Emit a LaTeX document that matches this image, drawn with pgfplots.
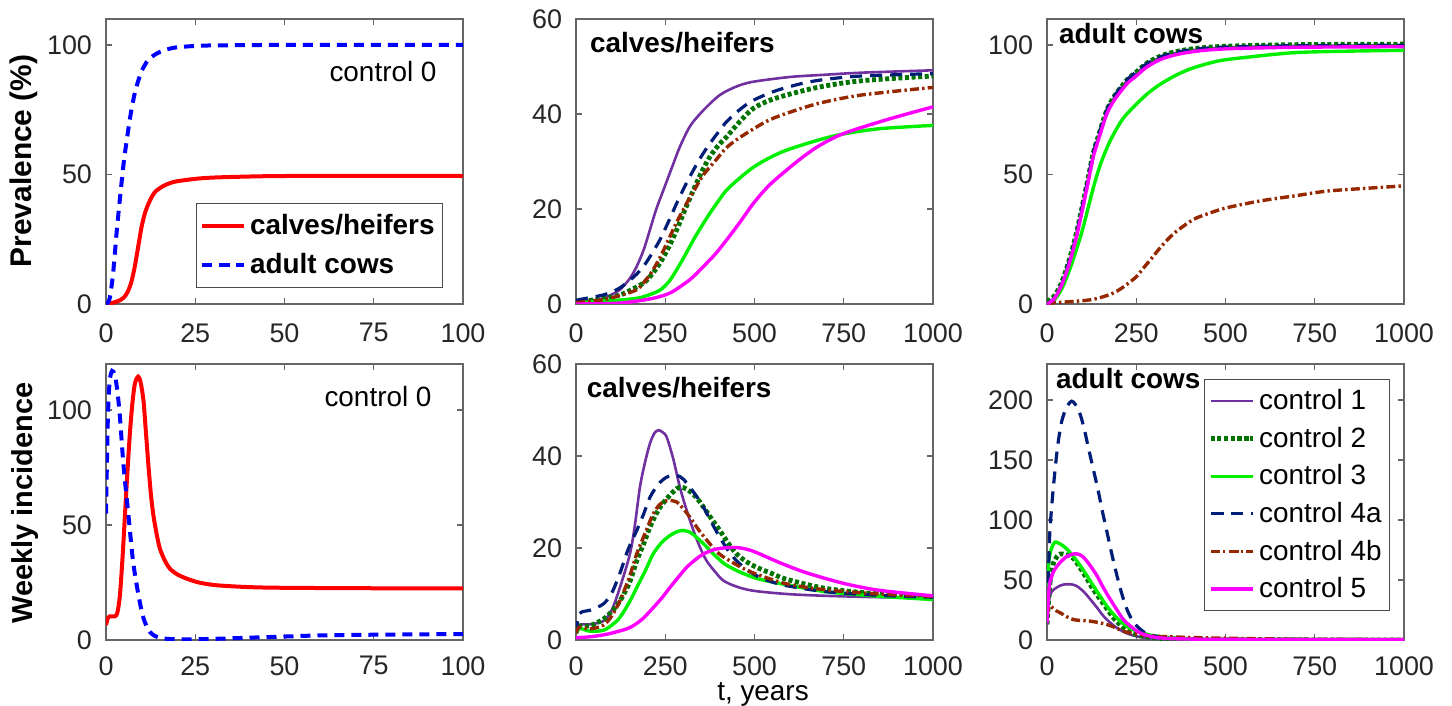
\documentclass[border=0pt]{standalone}
\usepackage{fontspec}
\setmainfont{Liberation Sans}
\usepackage{pgfplots}
\pgfplotsset{compat=1.18}

\definecolor{cone}{RGB}{112,48,160}
\definecolor{ctwo}{RGB}{0,115,0}
\definecolor{cthree}{RGB}{0,240,0}
\definecolor{cfoura}{RGB}{0,30,120}
\definecolor{cfourb}{RGB}{150,40,0}
\definecolor{cfive}{RGB}{255,0,255}

\pgfplotsset{
  mlab/.style={
    scale only axis, width=178.5bp,
    axis line style={draw=black!60, line width=0.6bp},
    tick style={draw=black!60, line width=0.6bp},
    major tick length=3bp,
    tick align=inside,
    tick label style={font=\fontsize{13.5}{15}\selectfont, text=black!85},
    /pgf/number format/assume math mode=true,
    /pgf/number format/1000 sep={},
    xticklabel style={inner ysep=1bp, yshift=-8.5bp},
    yticklabel style={xshift=-3.5bp},
    scaled ticks=false,
    legend image code/.code={\draw[##1] plot coordinates {(0bp,0bp) (10.5bp,0bp) (21bp,0bp)};},
  },
  bottomrow/.style={xticklabel style={yshift=1.5bp}},
  long/.style={mlab, xmin=0, xmax=1000, xtick={0,250,500,750,1000}},
  s1/.style={cone, line width=1.3bp},
  s2/.style={ctwo, line width=2.4bp, dash pattern=on 2bp off 1.3bp},
  s3/.style={cthree, line width=1.7bp},
  s4a/.style={cfoura, line width=1.6bp, dash pattern=on 6bp off 4bp},
  s4b/.style={cfourb, line width=1.7bp, dash pattern=on 4.5bp off 1.6bp on 1.2bp off 1.6bp},
  s5/.style={cfive, line width=1.7bp},
}

\begin{document}
\begin{tikzpicture}
\path[use as bounding box] (0,0) rectangle (726bp,-353bp);

% ---------- prevalence, control 0 ----------
\begin{axis}[mlab, at={(53bp,-9.5bp)}, anchor=north west, height=142.5bp,
  xmin=0, xmax=100, ymin=0, ymax=110,
  xtick={0,25,50,75,100}, ytick={0,50,100},
  legend style={at={(rel axis cs:0.944,0.354)}, anchor=north east,
    font=\bfseries\fontsize{14}{16}\selectfont, draw=black!70,
    cells={anchor=west}, row sep=4bp, inner xsep=2bp, inner ysep=3.5bp},
]
\addplot[red, line width=2bp, smooth] coordinates {
 (0,0) (2,0.5) (4,1.5) (5,2.5) (6,4.5) (7,8) (8,14) (9,22) (10,30) (11,35.5)
 (12,39) (13,41.8) (14,43.6) (16,45.5) (18,46.7) (20,47.4) (25,48.3) (30,48.8)
 (40,49.2) (50,49.4) (75,49.5) (100,49.4)};
\addlegendentry{calves/heifers}
\addplot[blue, line width=2bp, dash pattern=on 5bp off 3.5bp, smooth] coordinates {
 (0,0) (1,2) (2,12) (3,28) (4,42) (5,55) (6,65) (7,74) (8,81) (9,86) (10,90)
 (11,92.5) (12,94.5) (14,96.5) (16,97.8) (18,98.6) (20,99.1) (25,99.6) (30,99.8)
 (50,100) (100,100)};
\addlegendentry{adult cows}
\node[font=\fontsize{14}{16}\selectfont] at (rel axis cs:0.776,0.814) {control 0};
\end{axis}

% ---------- prevalence, calves/heifers ----------
\begin{axis}[long, at={(288bp,-9.5bp)}, anchor=north west, height=142.5bp,
  ymin=0, ymax=60, ytick={0,20,40,60}]
\addplot[s1, smooth] coordinates {
 (0,0.5) (50,0.8) (76,1.2) (100,2) (123,3) (150,5.3) (170,7.9) (190,11.5)
 (207,15.6) (225,20) (245,24) (270,29) (291,33.1) (320,37.5) (357,40.8)
 (403,44) (450,45.8) (497,46.8) (600,47.8) (683,48.2) (800,48.7) (1000,49.2)};
\addplot[s2, smooth] coordinates {
 (0,0.5) (30,0.7) (80,1.2) (123,1.9) (155,3) (189,4.4) (210,6) (235,8.6)
 (260,12) (282,15.6) (305,19.8) (329,24) (352,27.8) (375,31) (400,33.5)
 (422,35.2) (460,38.5) (497,41.2) (540,42.8) (590,44) (683,45.7) (800,47) (1000,48)};
\addplot[s3, smooth] coordinates {
 (0,0.3) (100,0.7) (170,1.2) (200,1.8) (235,2.9) (260,4.7) (282,7.2) (305,10.2)
 (329,13.5) (352,16.4) (375,19.1) (400,21.8) (422,24) (460,26.6) (497,28.8)
 (540,30.7) (590,32.4) (683,34.6) (750,35.8) (850,36.9) (1000,37.6)};
\addplot[s4a, smooth] coordinates {
 (0,0.8) (50,1.5) (76,1.9) (100,2.5) (125,3.5) (151,5) (170,6.3) (189,7.9)
 (210,10.3) (235,13.5) (260,17.5) (282,21.2) (305,24.8) (329,28.2) (352,31.2)
 (375,33.8) (400,36.3) (422,38.4) (460,41) (497,42.9) (560,44.9) (637,46.5)
 (700,47.3) (800,48) (1000,48.5)};
\addplot[s4b, smooth] coordinates {
 (0,0.3) (76,0.9) (123,1.8) (170,3) (195,5) (216,7.2) (240,10.5) (263,14.2)
 (286,17.8) (310,21.2) (333,24.2) (357,27.2) (394,30.5) (420,32.8) (450,34.6)
 (500,37) (543,38.8) (600,40.4) (683,42.3) (800,44) (1000,45.6)};
\addplot[s5, smooth] coordinates {
 (0,0) (100,0.1) (150,0.4) (216,1.2) (260,2.2) (291,3.6) (325,5.5) (357,7.9)
 (390,10.5) (422,13.5) (460,17.3) (497,21.2) (540,24.9) (590,28.2) (640,31.2)
 (683,33.4) (750,35.9) (875,38.9) (1000,41.5)};
\node[anchor=west, font=\bfseries\fontsize{14}{16}\selectfont] at (rel axis cs:0.02,0.916) {calves/heifers};
\end{axis}

% ---------- prevalence, adult cows ----------
\begin{axis}[long, at={(523.5bp,-9.5bp)}, anchor=north west, height=142.5bp,
  ymin=0, ymax=110, ytick={0,50,100}]
\addplot[s1, smooth] coordinates {
 (0,0) (20,2) (40,7) (60,15) (80,25) (100,38) (115,48) (130,58) (150,67)
 (168,74.5) (190,80) (224,86) (250,89) (280,92.5) (320,95.3) (364,97)
 (420,98.2) (505,99) (700,99.6) (1000,99.8)};
\addplot[s2, smooth] coordinates {
 (0,1) (20,3) (40,8) (60,16) (80,26) (100,38.5) (115,48.5) (130,58.5) (150,67.5)
 (168,75) (190,80.5) (224,86.5) (250,89.5) (280,93) (320,95.8) (364,97.5)
 (420,98.7) (505,99.5) (700,100.1) (1000,100.3)};
\addplot[s3, smooth] coordinates {
 (0,0) (20,1.5) (40,5.5) (60,12) (80,20) (100,29) (130,45) (150,54) (177,63)
 (210,71) (242,76) (280,81) (317,84.8) (364,88.5) (411,91.2) (480,93.8)
 (551,95.1) (692,97) (850,97.6) (1000,97.9)};
\addplot[s4a, smooth] coordinates {
 (0,0) (20,2.2) (40,7.3) (60,15.5) (80,25.5) (100,38.5) (115,48.5) (130,58.5) (150,67.5)
 (168,75) (190,80.5) (224,86.5) (250,89.5) (280,92.8) (320,95.5) (364,97.2)
 (420,98.4) (505,99.2) (700,99.7) (1000,99.9)};
\addplot[s4b, smooth] coordinates {
 (0,0) (18,0.5) (75,1) (130,1.8) (177,3.7) (200,5.3) (224,7.6) (250,10.5)
 (271,14) (295,18) (317,21.7) (340,25.2) (364,28.2) (411,32.7) (460,35.3)
 (505,37.2) (598,39.8) (692,41.7) (786,43.6) (900,44.7) (1000,45.6)};
\addplot[s5, smooth] coordinates {
 (0,0) (20,2) (40,7) (60,14.5) (80,24.5) (100,37) (115,47) (130,57) (150,66)
 (168,73.5) (190,79) (224,85) (250,88) (280,91.5) (320,94.5) (364,96.3)
 (420,97.6) (505,98.5) (700,99.1) (1000,99.3)};
\node[anchor=west, font=\bfseries\fontsize{14}{16}\selectfont] at (rel axis cs:0.014,0.95) {adult cows};
\end{axis}

% ---------- incidence, control 0 ----------
\begin{axis}[mlab, bottomrow, at={(53bp,-182bp)}, anchor=north west, height=138bp,
  xmin=0, xmax=100, ymin=0, ymax=120,
  xtick={0,25,50,75,100}, ytick={0,50,100}]
\addplot[red, line width=2bp, smooth] coordinates {
 (0,6.5) (0.5,9.5) (1,10.3) (2.5,10.3) (3.2,12) (3.9,19.5) (4.6,35) (5.3,54)
 (6,73) (6.7,90) (7.4,103) (8.1,111.5) (9,114.5) (9.7,112) (10.5,104) (11.2,90)
 (11.9,75.6) (12.6,63) (13.3,54) (14.2,46) (15.1,39.7) (16.5,34.5) (17.9,31)
 (20,28.5) (22.6,26.7) (26,25) (31,23.8) (40,23) (50,22.7) (75,22.5) (100,22.5)};
\addplot[blue, line width=2bp, dash pattern=on 5bp off 3.5bp, smooth] coordinates {
 (0,55) (0.5,95) (1,112) (1.7,117) (2.5,115) (3.2,108) (3.9,97) (4.9,76)
 (6.3,54) (7.6,34) (9.1,19.5) (10.5,9.5) (12.3,3.5) (15,1) (20,0.3) (30,0.5)
 (40,1) (50,1.5) (60,2) (75,2.3) (100,2.6)};
\node[font=\fontsize{14}{16}\selectfont] at (rel axis cs:0.762,0.881) {control 0};
\end{axis}

% ---------- incidence, calves/heifers ----------
\begin{axis}[long, bottomrow, at={(288bp,-182bp)}, anchor=north west, height=138bp,
  ymin=0, ymax=60, ytick={0,20,40,60}]
\addplot[s1, smooth] coordinates {
 (0,1.5) (10,3.3) (39,3.4) (76,4.1) (100,6.5) (123,11.4) (151,18.7) (165,25)
 (179,33.2) (193,38.5) (207,42.7) (220,45) (231,45.6) (242,45.2) (254,44.1)
 (272,39.5) (291,33.2) (310,28.2) (329,23.8) (347,20.2) (366,17.2) (390,14.8)
 (413,12.9) (450,11.6) (497,10.7) (590,10) (700,9.6) (850,9.3) (1000,9.1)};
\addplot[s2, smooth] coordinates {
 (0,1.5) (10,3) (39,3.1) (76,4.5) (100,6.2) (123,8.5) (150,12.5) (170,17.2)
 (190,21) (207,24.5) (230,28.2) (254,30.7) (282,32.9) (295,33.2) (310,32.8)
 (335,31.2) (357,28.9) (380,26.3) (403,23.8) (425,21.2) (450,18.7) (480,16.9)
 (506,15.8) (550,14.4) (590,13.2) (700,11.2) (850,10) (1000,9.3)};
\addplot[s3, smooth] coordinates {
 (0,1.5) (10,2.5) (39,1.9) (76,2.1) (100,3.2) (123,4.9) (150,8.3) (170,11.4)
 (195,15.2) (216,18.7) (240,21.2) (263,22.7) (285,23.6) (301,23.8) (320,23.4)
 (338,22.3) (360,20.7) (385,18.7) (415,16.6) (450,15.1) (480,14.1) (515,13.2)
 (590,12) (700,10.5) (850,9.5) (1000,8.8)};
\addplot[s4a, smooth] coordinates {
 (0,1.5) (10,5.7) (40,6.5) (76,7.8) (100,10.2) (123,14.5) (145,19.5) (170,23.8)
 (190,27.5) (207,31) (230,33.8) (254,35.4) (282,35.8) (300,35) (319,33.2)
 (338,31.2) (357,28.9) (380,25.5) (403,22.3) (425,19.6) (450,17.2) (480,15.2)
 (515,13.6) (550,12.6) (590,11.8) (700,10.5) (850,9.7) (1000,9.3)};
\addplot[s4b, smooth] coordinates {
 (0,1.5) (10,2.8) (39,2.4) (76,3.2) (100,5.2) (123,8.5) (150,13.8) (170,18.7)
 (195,23.5) (216,27.4) (235,29.5) (254,30.3) (270,30.3) (282,30) (300,28.6)
 (319,26.7) (345,23.8) (375,20.9) (400,18.8) (431,17.2) (470,15.5) (506,14.3)
 (590,12.2) (700,10.9) (850,10) (1000,9.5)};
\addplot[s5, smooth] coordinates {
 (0,0.5) (40,0.7) (76,1.1) (110,1.7) (151,2.7) (185,4.5) (216,7) (240,9.1)
 (263,11.4) (287,13.7) (310,15.8) (335,17.5) (357,18.7) (385,19.6) (413,20)
 (450,20.1) (480,19.7) (506,19) (550,17.5) (590,16.2) (650,14.5) (750,12.3)
 (850,10.8) (1000,9.6)};
\node[anchor=west, font=\bfseries\fontsize{14}{16}\selectfont] at (rel axis cs:0.011,0.916) {calves/heifers};
\end{axis}

% ---------- incidence, adult cows ----------
\begin{axis}[long, bottomrow, at={(523.5bp,-182bp)}, anchor=north west, height=138bp,
  ymin=0, ymax=230, ytick={0,50,100,150,200},
  legend style={at={(rel axis cs:0.961,0.945)}, anchor=north east,
    font=\fontsize{14}{16}\selectfont, draw=black!70,
    cells={anchor=west}, row sep=3.2bp, inner xsep=2bp, inner ysep=3bp},
]
\addplot[s1, smooth] coordinates {
 (0,14) (4,28) (8,36.7) (15,41) (27,43.7) (41,45.8) (55,46.5) (69,46.3) (83,45)
 (102,40.5) (121,34) (140,27) (158,20) (177,14.5) (196,10) (215,6.8) (233,4.5)
 (260,2.5) (300,1.2) (400,0.4) (1000,0.1)};
\addlegendentry{control 1}
\addplot[s2, smooth] coordinates {
 (0,13) (5,35) (10,52) (18,64) (28,69.5) (37,71.7) (55,71) (74,68) (93,60)
 (112,51) (130,42) (149,34) (168,26) (186,18.5) (205,12.5) (224,8) (250,4.5)
 (280,2.7) (320,1.3) (400,0.5) (500,0.2) (1000,0)};
\addlegendentry{control 2}
\addplot[s3, smooth] coordinates {
 (0,45) (5,65) (12,76) (22,81.5) (30,81) (40,79.5) (55,76) (74,69.5) (93,62)
 (112,53.5) (130,45) (150,36) (168,28) (186,21.5) (205,15.7) (228,10.5)
 (252,7.3) (280,4.8) (308,3) (350,1.7) (400,1) (500,0.5) (1000,0.3)};
\addlegendentry{control 3}
\addplot[s4a, smooth] coordinates {
 (0,14) (4,55) (8,90) (15,118) (22,140) (30,162) (41,182) (55,194) (69,199)
 (80,196) (93,188) (105,175) (116,160) (130,142) (144,123.5) (156,106)
 (168,90) (182,71) (196,53.5) (210,38) (224,25.5) (238,17) (252,11.5)
 (275,6) (300,3.5) (350,1.5) (400,1) (500,0.5) (1000,0.3)};
\addlegendentry{control 4a}
\addplot[s4b, smooth] coordinates {
 (0,20) (4,26) (8,28.3) (15,27) (25,24.5) (37,22.7) (55,19.5) (74,17) (100,16.2)
 (121,15.7) (145,14.5) (168,12.9) (190,10.5) (214,7.3) (240,5.5) (261,4.5)
 (300,3.2) (355,2.6) (400,2.1) (500,1.5) (600,1) (750,0.6) (1000,0.4)};
\addlegendentry{control 4b}
\addplot[s5, smooth] coordinates {
 (0,14) (4,35) (8,48) (20,58) (37,64.7) (55,69.5) (74,71.7) (88,71.5) (102,69)
 (121,62) (140,53.5) (158,43.5) (177,34) (196,25) (214,17) (238,10.5)
 (261,5.9) (285,3.5) (308,2) (350,1.2) (400,0.8) (500,0.5) (1000,0.3)};
\addlegendentry{control 5}
\node[anchor=west, font=\bfseries\fontsize{14}{16}\selectfont] at (rel axis cs:0.006,0.949) {adult cows};
\end{axis}

% ---------- shared labels ----------
\node[rotate=90, font=\bfseries\fontsize{15}{17}\selectfont] at (12bp,-80.5bp) {Prevalence (\%)};
\node[rotate=90, font=\bfseries\fontsize{14.5}{17}\selectfont] at (12.5bp,-251.5bp) {Weekly incidence};
\node[anchor=base, inner sep=0pt, font=\fontsize{14}{16}\selectfont] at (381.5bp,-350.3bp) {t, years};
\end{tikzpicture}
\end{document}
